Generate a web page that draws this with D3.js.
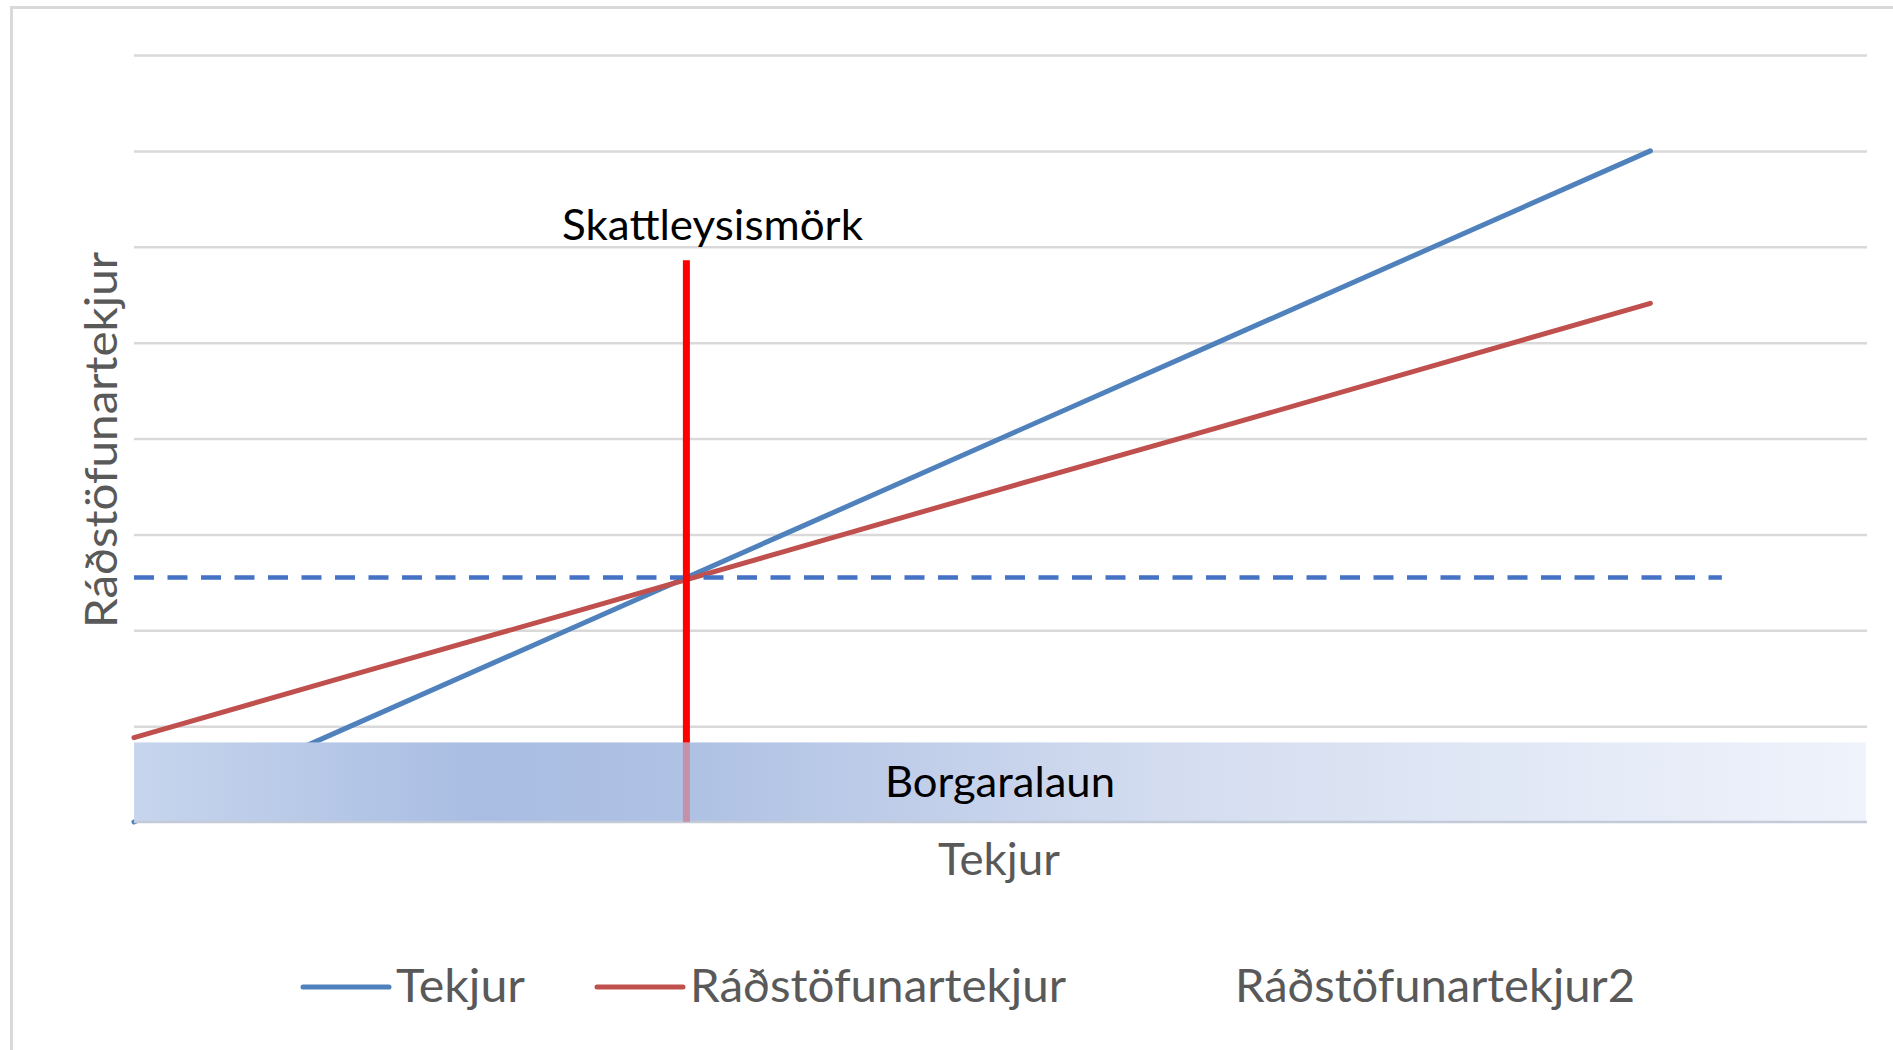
<!DOCTYPE html>
<html>
<head>
<meta charset="utf-8">
<script src="https://cdn.jsdelivr.net/npm/d3@7"></script>
<style>
  html, body { margin: 0; padding: 0; background: #fff; overflow: hidden; }
  svg { display: block; font-family: Lato, "Open Sans", sans-serif; }
</style>
</head>
<body>
<svg id="chart" width="1893" height="1050"></svg>
<script>
// income steps (category positions) and the two series
const tekjurX = [0, 1, 2, 3, 4, 5, 6, 7];
const tekjur = [0, 1, 2, 3, 4, 5, 6, 7];
const radstofunartekjur = [0.88, 1.53, 2.17, 2.82, 3.47, 4.11, 4.76, 5.41];

// annotations
const skattleysismork = 2.55;     // x where tax starts
const skattleysisTop = 5.86;      // top of the red marker line
const dashLevel = 2.55;           // dashed horizontal level
const dashEnd = 7.33;
const borgaralaun = 0.83;         // basic income band height

const yTicks = [1, 2, 3, 4, 5, 6, 7, 8];
const xDomain = [0, 8];
const yDomain = [0, 8];

const legendItems = [
  { label: 'Tekjur', color: '#4F81BD', line: true, x: 303, w: 129 },
  { label: 'Ráðstöfunartekjur', color: '#C0504D', line: true, x: 597, w: 376 },
  { label: 'Ráðstöfunartekjur2', color: null, line: false, x: 1235, w: 400 }
];

const svg = d3.select('#chart');
const plot = { left: 134, right: 1867, top: 55, bottom: 822 };

const x = d3.scaleLinear().domain(xDomain).range([plot.left, plot.right]);
const y = d3.scaleLinear().domain(yDomain).range([plot.bottom, plot.top]);

// outer chart frame (cut off at right and bottom like the screenshot)
svg.append('rect')
  .attr('x', 11.5).attr('y', 7.5)
  .attr('width', 2000).attr('height', 2000)
  .attr('fill', 'none').attr('stroke', '#d9d9d9').attr('stroke-width', 3);

// gridlines
svg.append('g')
  .attr('transform', `translate(${plot.left},0)`)
  .call(d3.axisLeft(y).tickValues(yTicks).tickSize(-(plot.right - plot.left)).tickFormat(''))
  .call((g) => g.select('.domain').remove())
  .call((g) => g.selectAll('.tick line').attr('stroke', '#d9d9d9').attr('stroke-width', 2.5));

const line = d3.line().x((d) => x(d[0])).y((d) => y(d[1]));

svg.append('path')
  .datum(tekjurX.map((v, i) => [v, tekjur[i]]))
  .attr('d', line)
  .attr('fill', 'none').attr('stroke', '#4F81BD').attr('stroke-width', 5).attr('stroke-linecap', 'round');

svg.append('path')
  .datum(tekjurX.map((v, i) => [v, radstofunartekjur[i]]))
  .attr('d', line)
  .attr('fill', 'none').attr('stroke', '#C0504D').attr('stroke-width', 5).attr('stroke-linecap', 'round');

svg.append('line')
  .attr('x1', x(0)).attr('x2', x(dashEnd))
  .attr('y1', y(dashLevel)).attr('y2', y(dashLevel))
  .attr('stroke', '#4472C4').attr('stroke-width', 4.5).attr('stroke-dasharray', '20 13.5');

// Borgaralaun band with gradient
const grad = svg.append('defs').append('linearGradient').attr('id', 'bandGrad');
[[0, '#c7d5ed'], [0.2, '#a9bde3'], [0.33, '#b0c2e4'], [0.6, '#d4ddf0'], [1, '#eff3fb']].forEach(([o, c]) => {
  grad.append('stop').attr('offset', o).attr('stop-color', c);
});
svg.append('rect')
  .attr('x', x(0)).attr('y', y(borgaralaun))
  .attr('width', x(7.995) - x(0)).attr('height', y(0) - y(borgaralaun))
  .attr('fill', 'url(#bandGrad)');

// axis line
svg.append('line')
  .attr('x1', plot.left).attr('x2', plot.right).attr('y1', y(0)).attr('y2', y(0))
  .attr('stroke', '#c3cad8').attr('stroke-width', 2.5);

// Skattleysismörk marker
svg.append('line')
  .attr('x1', x(skattleysismork)).attr('x2', x(skattleysismork))
  .attr('y1', y(borgaralaun)).attr('y2', y(skattleysisTop))
  .attr('stroke', '#ff0000').attr('stroke-width', 7);
svg.append('line')
  .attr('x1', x(skattleysismork)).attr('x2', x(skattleysismork))
  .attr('y1', y(0)).attr('y2', y(borgaralaun))
  .attr('stroke', '#ff0000').attr('stroke-opacity', 0.25).attr('stroke-width', 7);

const addText = (txt, tx, ty, size, w, fill) =>
  svg.append('text')
    .attr('x', tx).attr('y', ty)
    .attr('font-size', size).attr('fill', fill)
    .attr('textLength', w).attr('lengthAdjust', 'spacingAndGlyphs')
    .text(txt);

addText('Skattleysismörk', 562, 240, 42, 301, '#000');
addText('Borgaralaun', 885, 797, 42, 230, '#000');
addText('Tekjur', 938, 875, 44.5, 122, '#595959');

svg.append('text')
  .attr('transform', 'translate(117,628) rotate(-90)')
  .attr('font-size', 44.5).attr('fill', '#595959')
  .attr('textLength', 376).attr('lengthAdjust', 'spacingAndGlyphs')
  .text('Ráðstöfunartekjur');

// legend
const legend = svg.append('g');
legendItems.forEach((item) => {
  if (item.line) {
    legend.append('line')
      .attr('x1', item.x).attr('x2', item.x + 86)
      .attr('y1', 987).attr('y2', 987)
      .attr('stroke', item.color).attr('stroke-width', 5).attr('stroke-linecap', 'round');
  }
  legend.append('text')
    .attr('x', item.line ? item.x + 93 : item.x).attr('y', 1002)
    .attr('font-size', 46.5).attr('fill', '#595959')
    .attr('textLength', item.w).attr('lengthAdjust', 'spacingAndGlyphs')
    .text(item.label);
});
</script>
</body>
</html>
